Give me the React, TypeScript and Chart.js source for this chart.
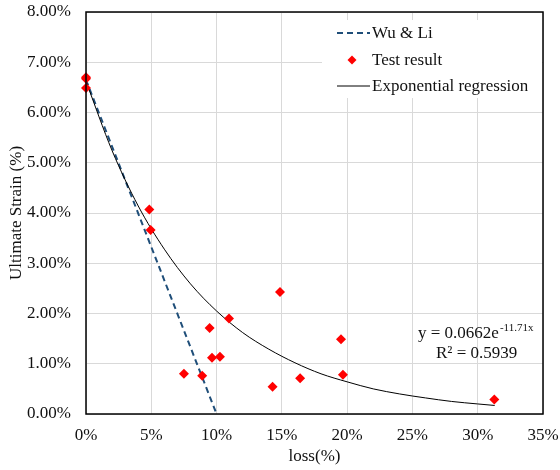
import React, { useEffect, useRef } from "react";
import { Chart, registerables } from "chart.js";

Chart.register(...registerables);

// Test results (loss %, ultimate strain %)
const testLoss = [0, 0, 0, 4.85, 4.95, 7.5, 8.9, 9.47, 9.65, 10.26, 10.95, 14.29, 14.86, 16.4, 19.53, 19.68, 31.27];
const testStrain = [6.7, 6.67, 6.49, 4.07, 3.66, 0.8, 0.76, 1.71, 1.12, 1.14, 1.9, 0.54, 2.43, 0.71, 1.49, 0.78, 0.29];

// Wu & Li model line
const wuLoss = [0, 10];
const wuStrain = [6.65, 0];

// Exponential regression curve
const regLoss = [0, 2, 4, 6, 8, 10, 12, 14, 16, 18, 20, 22, 24, 26, 28, 30, 31.3];
const regStrain = [6.62, 5.24, 4.14, 3.28, 2.59, 2.05, 1.62, 1.29, 1.02, 0.8, 0.64, 0.5, 0.4, 0.32, 0.25, 0.2, 0.17];

const xTicks = [0, 5, 10, 15, 20, 25, 30, 35];
const yTicks = [0, 1, 2, 3, 4, 5, 6, 7, 8];

const legendLabels = ["Wu & Li", "Test result", "Exponential regression"];
const equationText = "y = 0.0662e";
const equationExp = "-11.71x";
const r2Text = "R² = 0.5939";

const FONT = "'Liberation Serif', 'Times New Roman', serif";
const FS = 17;

const overlayPlugin = {
  id: "overlay",
  afterDraw(chart: any) {
    const { ctx, chartArea } = chart;
    const { left, right, top, bottom } = chartArea;
    ctx.save();
    // legend box
    ctx.fillStyle = "#ffffff";
    ctx.fillRect(322, 20, right - 322 - 1, 78);
    ctx.font = `${FS}px ${FONT}`;
    ctx.fillStyle = "#111";
    ctx.textBaseline = "middle";
    ctx.textAlign = "left";
    const ys = [33, 60, 86];
    // Wu & Li sample
    ctx.strokeStyle = "#1F4E79";
    ctx.lineWidth = 2;
    ctx.setLineDash([6, 4]);
    ctx.beginPath();
    ctx.moveTo(337, ys[0]);
    ctx.lineTo(370, ys[0]);
    ctx.stroke();
    ctx.setLineDash([]);
    // diamond
    ctx.fillStyle = "#FF0000";
    ctx.beginPath();
    const dx = 352, dy = ys[1], r = 4.5;
    ctx.moveTo(dx, dy - r);
    ctx.lineTo(dx + r, dy);
    ctx.lineTo(dx, dy + r);
    ctx.lineTo(dx - r, dy);
    ctx.closePath();
    ctx.fill();
    // regression sample
    ctx.strokeStyle = "#000000";
    ctx.lineWidth = 1;
    ctx.beginPath();
    ctx.moveTo(337, ys[2]);
    ctx.lineTo(370, ys[2]);
    ctx.stroke();
    ctx.fillStyle = "#111";
    legendLabels.forEach((t, i) => ctx.fillText(t, 372, ys[i] + 1));

    // equation
    ctx.textBaseline = "alphabetic";
    ctx.font = `${FS}px ${FONT}`;
    ctx.fillText(equationText, 418, 338);
    const w = ctx.measureText(equationText).width;
    ctx.font = `11px ${FONT}`;
    ctx.fillText(equationExp, 418 + w + 1, 331);
    ctx.font = `${FS}px ${FONT}`;
    ctx.fillText(r2Text, 436, 357.5);

    // plot box
    ctx.strokeStyle = "#000000";
    ctx.lineWidth = 1.5;
    ctx.strokeRect(left, top, right - left, bottom - top);
    ctx.restore();
  },
};

export default function App() {
  const ref = useRef<HTMLCanvasElement | null>(null);

  useEffect(() => {
    document.body.style.margin = "0";
    const canvas = ref.current;
    if (!canvas) return;
    const chart = new Chart(canvas, {
      type: "scatter",
      data: {
        datasets: [
          {
            label: legendLabels[0],
            data: wuLoss.map((x, i) => ({ x, y: wuStrain[i] })),
            showLine: true,
            borderColor: "#1F4E79",
            borderWidth: 2,
            borderDash: [6, 4],
            pointRadius: 0,
            order: 2,
          },
          {
            label: legendLabels[2],
            data: regLoss.map((x, i) => ({ x, y: regStrain[i] })),
            showLine: true,
            borderColor: "#000000",
            borderWidth: 1,
            pointRadius: 0,
            tension: 0.4,
            cubicInterpolationMode: "monotone",
            order: 1,
          },
          {
            label: legendLabels[1],
            data: testLoss.map((x, i) => ({ x, y: testStrain[i] })),
            pointStyle: "rectRot",
            pointRadius: 5,
            backgroundColor: "#FF0000",
            borderColor: "#FF0000",
            borderWidth: 0,
            order: 0,
          },
        ],
      } as any,
      options: {
        animation: false,
        responsive: false,
        clip: false as any,
        layout: { padding: { left: 0, right: 17, top: 12, bottom: 0 } },
        plugins: { legend: { display: false }, tooltip: { enabled: false } },
        scales: {
          x: {
            type: "linear",
            min: 0,
            max: 35,
            afterFit: (s: any) => {
              s.height = 56;
              s.paddingLeft = 0;
              s.paddingRight = 0;
            },
            afterBuildTicks: (s: any) => {
              s.ticks = xTicks.map((v) => ({ value: v }));
            },
            ticks: {
              padding: 11,
              color: "#111",
              font: { family: FONT, size: FS },
              callback: (v: any) => `${v}%`,
            },
            grid: { color: "#D9D9D9", lineWidth: 1, drawTicks: false },
            border: { display: false },
            title: {
              display: true,
              text: "loss(%)",
              color: "#111",
              font: { family: FONT, size: FS },
              padding: { top: 0, bottom: 3 },
            },
          },
          y: {
            type: "linear",
            min: 0,
            max: 8,
            afterFit: (s: any) => {
              s.width = 86;
              s.paddingTop = 0;
              s.paddingBottom = 0;
            },
            afterBuildTicks: (s: any) => {
              s.ticks = yTicks.map((v) => ({ value: v }));
            },
            ticks: {
              padding: 15,
              color: "#111",
              font: { family: FONT, size: FS },
              callback: (v: any) => `${Number(v).toFixed(2)}%`,
            },
            grid: { color: "#D9D9D9", lineWidth: 1, drawTicks: false },
            border: { display: false },
            title: {
              display: true,
              text: "Ultimate Strain (%)",
              color: "#111",
              font: { family: FONT, size: FS },
              padding: { top: 6, bottom: 0 },
            },
          },
        },
      },
      plugins: [overlayPlugin],
    });
    return () => chart.destroy();
  }, []);

  return (
    <div style={{ position: "absolute", left: 0, top: 0, width: 560, height: 470, background: "#fff" }}>
      <canvas ref={ref} width={560} height={470} />
    </div>
  );
}
